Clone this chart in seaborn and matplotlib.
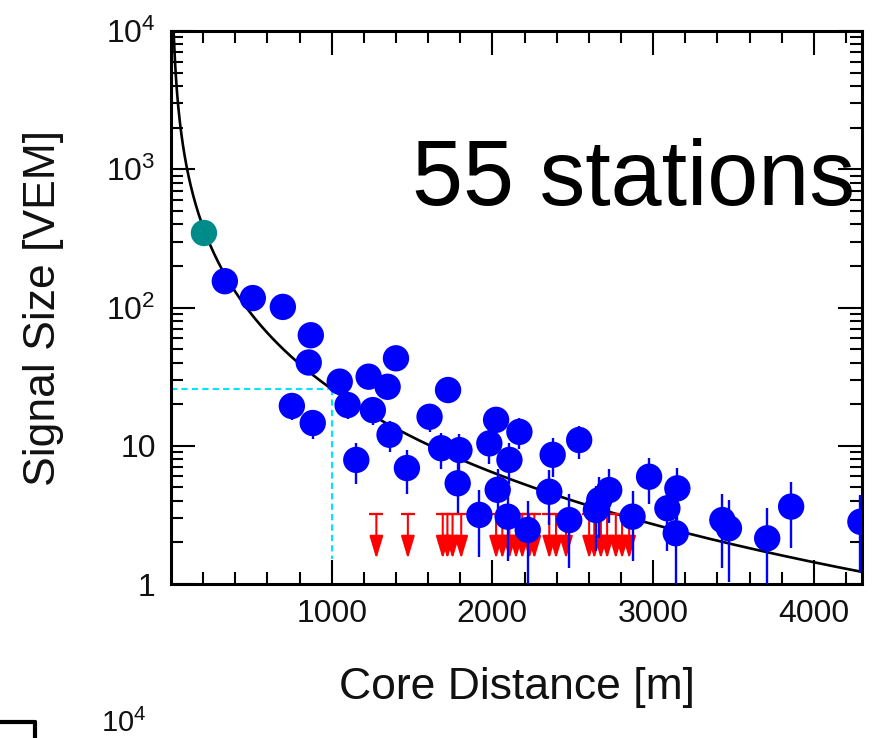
import numpy as np
import pandas as pd
import matplotlib
matplotlib.use("Agg")
import matplotlib.pyplot as plt
from matplotlib.lines import Line2D
from matplotlib.ticker import FixedLocator, LogLocator, FuncFormatter, NullFormatter
import seaborn as sns

# Triggered stations: core distance [m], signal [VEM], uncertainty [VEM]
hottest_distance = [205]
hottest_signal = [346]
hottest_error = [17]

station_distance = [335, 509, 696, 870, 857, 752, 882, 1050, 1230, 1348,
                    1400, 1099, 1256, 1360, 1153, 1468, 1609, 1724, 1681, 1795,
                    1784, 2023, 2168, 1981, 2106, 2033, 1919, 2095, 2220, 2375,
                    2540, 2354, 2478, 2727, 2665, 2644, 2872, 2975, 3151, 3089,
                    3141, 3431, 3472, 3710, 3859, 4290]
station_signal = [155, 117, 101, 63, 40, 19.4, 14.6, 29.1, 31.6, 26.7,
                  42.9, 19.7, 18.1, 12.0, 7.9, 6.9, 16.2, 25.3, 9.6, 9.3,
                  5.35, 15.4, 12.6, 10.4, 7.9, 4.8, 3.16, 3.07, 2.46, 8.6,
                  11.0, 4.65, 2.9, 4.78, 4.05, 3.43, 3.07, 5.97, 4.92, 3.53,
                  2.33, 2.9, 2.53, 2.14, 3.63, 2.82]
station_error = [11, 10, 9, 7, 6, 4, 3.5, 5, 5, 4.5,
                 6, 4, 4, 3, 2.6, 2.4, 3.6, 4.5, 2.8, 2.8,
                 2.1, 3.6, 3.2, 3, 2.6, 2, 1.6, 1.6, 1.5, 2.7,
                 3, 2, 1.6, 2, 1.9, 1.7, 1.6, 2.2, 2, 1.8,
                 1.4, 1.6, 1.5, 1.4, 1.8, 1.6]

# Silent stations (upper limits)
silent_distance = [1278, 1474, 1691, 1720, 1752, 1806, 2023, 2062, 2106, 2147,
                   2186, 2230, 2261, 2354, 2396, 2458, 2602, 2634, 2675, 2714,
                   2768, 2807, 2851]
silent_limit = 3.2
silent_arrow_end = 1.52

# Lateral distribution fit
s1000 = 25.7
beta = 1.2
r_scale = 700.0

stations = pd.DataFrame({"distance": station_distance, "signal": station_signal,
                         "error": station_error})
hottest = pd.DataFrame({"distance": hottest_distance, "signal": hottest_signal,
                        "error": hottest_error})

sns.set_theme(style="ticks")
plt.rcParams["font.family"] = ["Liberation Sans", "DejaVu Sans"]
plt.rcParams["mathtext.fontset"] = "custom"
plt.rcParams["mathtext.rm"] = "Liberation Sans"

fig = plt.figure(figsize=(8.78, 7.38), dpi=100)
ax = fig.add_axes([171 / 878, 1 - 584 / 738, (862 - 171) / 878, (584 - 31) / 738])

ax.set_yscale("log")
ax.set_xlim(0, 4300)
ax.set_ylim(1, 1e4)

# fitted LDF curve
r = np.linspace(1, 4300, 2000)
ldf = s1000 * ((r / 1000.0) * ((r + r_scale) / (1000.0 + r_scale))) ** (-beta)
sns.lineplot(x=r, y=ldf, color="black", linewidth=1.9, ax=ax, zorder=3)

# S(1000) guide
ax.plot([0, 1000], [s1000, s1000], color="#00E5FF", lw=1.5, dashes=(3, 2), zorder=2)
ax.plot([1000, 1000], [s1000, silent_arrow_end], color="#00E5FF", lw=1.5,
        dashes=(3, 2), zorder=2)

# upper limits for silent stations
for x in silent_distance:
    ax.annotate("", xy=(x, silent_arrow_end), xytext=(x, silent_limit),
                arrowprops=dict(arrowstyle="-|>,head_length=1.0,head_width=0.3",
                                color="red", lw=1.5, mutation_scale=14,
                                shrinkA=0, shrinkB=0), zorder=4)
ax.scatter(silent_distance, [silent_limit] * len(silent_distance), marker="_",
           s=110, color="red", linewidths=1.6, zorder=4)

# triggered stations
ax.errorbar(stations["distance"], stations["signal"], yerr=stations["error"],
            fmt="none", ecolor="blue", elinewidth=1.7, capsize=0, zorder=5)
sns.scatterplot(data=stations, x="distance", y="signal", color="blue", s=360,
                edgecolor="none", ax=ax, zorder=6)
sns.scatterplot(data=hottest, x="distance", y="signal", color="#008B8B", s=360,
                edgecolor="none", ax=ax, zorder=6)

ax.text((412 - 171) / 691, (584 - 205) / 553, "55 stations", fontsize=66,
        ha="left", va="baseline", color="black", transform=ax.transAxes, zorder=7)

# axes styling
ax.xaxis.set_major_locator(FixedLocator([1000, 2000, 3000, 4000]))
ax.xaxis.set_minor_locator(FixedLocator(np.arange(200, 4300, 200)))
ax.yaxis.set_major_locator(LogLocator(base=10, numticks=10))
ax.yaxis.set_minor_locator(LogLocator(base=10, subs=np.arange(2, 10), numticks=20))
ax.yaxis.set_minor_formatter(NullFormatter())


def ylabel_fmt(v, pos):
    if v <= 1.5:
        return "1"
    if v <= 15:
        return "10"
    return r"$\mathregular{10^{%d}}$" % int(round(np.log10(v)))


ax.yaxis.set_major_formatter(FuncFormatter(ylabel_fmt))
ax.xaxis.set_major_formatter(FuncFormatter(lambda v, p: "%d" % v))

ax.tick_params(which="both", direction="in", top=True, right=True,
               width=1.5, color="black", labelsize=23, pad=11, labelcolor="#111111")
ax.tick_params(which="major", length=17)
ax.tick_params(which="minor", length=8.5)
for sp in ax.spines.values():
    sp.set_linewidth(2.2)
    sp.set_color("black")

ax.set_xlabel("Core Distance [m]", fontsize=32, labelpad=27, color="#111111")
ax.set_ylabel("Signal Size [VEM]", fontsize=32, labelpad=30, color="#111111")

# corner of the panel below
fig.text(101 / 878, 1 - 732 / 738, r"$\mathregular{10^{4}}$", fontsize=21,
         ha="left", va="baseline", color="#111111")
fig.add_artist(Line2D([0, 35 / 878], [1 - 722 / 738, 1 - 722 / 738],
                      color="black", lw=3, transform=fig.transFigure))
fig.add_artist(Line2D([35 / 878, 35 / 878], [1 - 722 / 738, 0],
                      color="black", lw=3, transform=fig.transFigure))

fig.savefig("out.png", dpi=100, facecolor="white")
